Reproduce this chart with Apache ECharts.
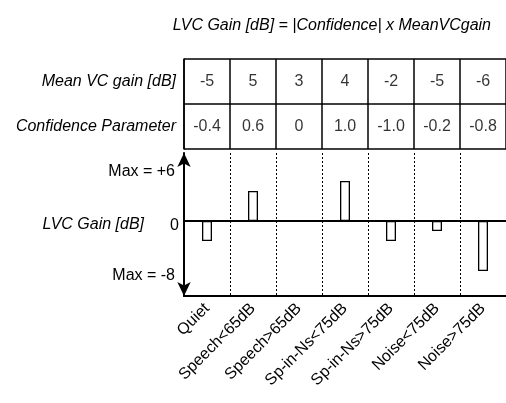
<!DOCTYPE html>
<html>
<head>
<meta charset="utf-8">
<script src="https://cdn.jsdelivr.net/npm/echarts@6/dist/echarts.min.js"></script>
<style>
  html, body { margin: 0; padding: 0; background: #fff; }
  #lvc { width: 506px; height: 403px; }
</style>
</head>
<body>
<div id="lvc"></div>
<script>
// 数据
var categories = ['Quiet', 'Speech<65dB', 'Speech>65dB', 'Sp-in-Ns<75dB', 'Sp-in-Ns>75dB', 'Noise<75dB', 'Noise>75dB'];
var meanGain = [-5, 5, 3, 4, -2, -5, -6];
var confidence = [-0.4, 0.6, 0, 1.0, -1.0, -0.2, -0.8];
var lvcGain = [-2, 3, 0, 4, -2, -1, -5];
var rowNames = ['Mean VC gain [dB]', 'Confidence Parameter'];
var yTickValues = [-5.5, 0, 4.9];
var yTickLabels = ['Max = -8', '0', 'Max = +6'];

var font = 'Liberation Sans, Arial, sans-serif';

function fmtConf(v) {
    return v === 0 ? '0' : v.toFixed(1);
}

// 表格数据
var tableData = [];
for (var i = 0; i < categories.length; i++) {
    tableData.push({ value: [i, 0], label: { formatter: String(meanGain[i]) } });
    tableData.push({ value: [i, 1], label: { formatter: fmtConf(confidence[i]) } });
}

var myChart = echarts.init(document.getElementById('lvc'));

var option = {
    animation: false,
    title: {
        text: 'LVC Gain [dB] = |Confidence| x MeanVCgain',
        right: 10,
        top: 13,
        textStyle: {
            fontFamily: font,
            fontStyle: 'italic',
            fontWeight: 'normal',
            fontSize: 16,
            color: '#000'
        }
    },
    grid: [
        { left: 184, top: 153, width: 323, height: 143 },
        { left: 184, top: 59, width: 323, height: 90 }
    ],
    xAxis: [
        {
            type: 'category',
            gridIndex: 0,
            position: 'bottom',
            data: categories,
            axisLine: { onZero: false, lineStyle: { color: '#000', width: 2 } },
            axisTick: { show: false },
            axisLabel: {
                interval: 0,
                rotate: 45,
                margin: 10,
                color: '#000',
                fontFamily: font,
                fontSize: 16
            },
            splitLine: {
                show: true,
                interval: 0,
                lineStyle: { color: '#000', type: [2, 2], width: 1 }
            }
        },
        {
            type: 'category',
            gridIndex: 1,
            data: categories,
            axisLine: { show: false },
            axisTick: { show: false },
            axisLabel: { show: false },
            splitLine: {
                show: true,
                interval: 0,
                lineStyle: { color: '#000', width: 1.5 }
            }
        },
        {
            // 零线
            type: 'category',
            gridIndex: 0,
            position: 'top',
            data: categories,
            axisLine: { onZero: true, lineStyle: { color: '#000', width: 2 } },
            axisTick: { show: false },
            axisLabel: { show: false },
            splitLine: { show: false }
        }
    ],
    yAxis: [
        {
            type: 'value',
            gridIndex: 0,
            min: -7.5,
            max: 6.8,
            name: 'LVC Gain [dB]',
            nameLocation: 'middle',
            nameRotate: 0,
            nameGap: 40,
            nameMoveOverlap: false,
            nameTextStyle: {
                fontFamily: font,
                fontStyle: 'italic',
                fontSize: 16,
                color: '#000',
                align: 'right',
                padding: [0, 0, 8, 0]
            },
            axisLine: {
                show: true,
                symbol: ['arrow', 'arrow'],
                symbolSize: [10, 14],
                lineStyle: { color: '#000', width: 2 }
            },
            axisTick: { show: false },
            splitLine: { show: false },
            axisLabel: {
                customValues: yTickValues,
                margin: 5,
                color: '#000',
                fontFamily: font,
                fontSize: 16,
                formatter: function (v) {
                    var k = yTickValues.indexOf(v);
                    if (k < 0) return '';
                    return v === 0 ? '{z|' + yTickLabels[k] + '}' : '{m|' + yTickLabels[k] + '}';
                },
                rich: {
                    z: { fontFamily: font, fontSize: 16, color: '#000', padding: [10, 0, 0, 0] },
                    m: { fontFamily: font, fontSize: 16, color: '#000', padding: [0, 4, 0, 0] }
                }
            }
        },
        {
            type: 'category',
            gridIndex: 1,
            inverse: true,
            data: rowNames,
            axisLine: { show: true, lineStyle: { color: '#000', width: 1.5 } },
            axisTick: { show: false },
            axisLabel: {
                margin: 8,
                color: '#000',
                fontFamily: font,
                fontStyle: 'italic',
                fontSize: 16
            },
            splitLine: {
                show: true,
                interval: 0,
                lineStyle: { color: '#000', width: 1.5 }
            }
        }
    ],
    series: [
        {
            type: 'bar',
            xAxisIndex: 0,
            yAxisIndex: 0,
            data: lvcGain,
            barWidth: 10,
            itemStyle: { color: '#fff', borderColor: '#000', borderWidth: 1.3 }
        },
        {
            type: 'scatter',
            xAxisIndex: 1,
            yAxisIndex: 1,
            data: tableData,
            symbolSize: 1,
            itemStyle: { color: 'rgba(0,0,0,0)' },
            label: {
                show: true,
                position: 'inside',
                color: '#000',
                fontFamily: font,
                fontSize: 16
            }
        }
    ]
};

myChart.setOption(option);
</script>
</body>
</html>
